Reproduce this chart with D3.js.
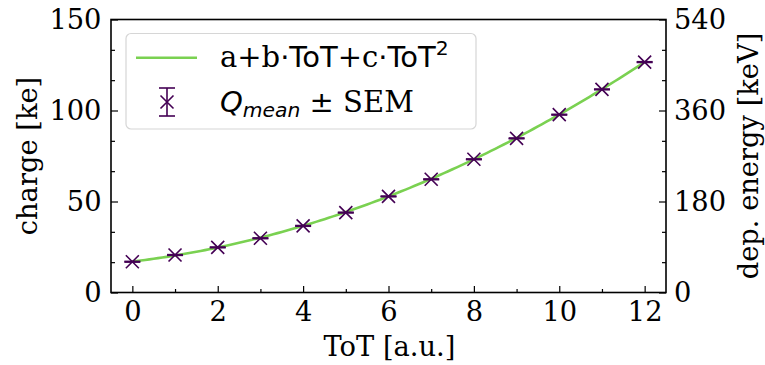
<!DOCTYPE html>
<html>
<head>
<meta charset="utf-8">
<script src="https://cdn.jsdelivr.net/npm/d3@7"></script>
<style>
  html, body { margin: 0; padding: 0; background: #fff; }
  svg { display: block; }
  text { fill: #000; }
</style>
</head>
<body>
<svg id="chart" width="765" height="365"></svg>
<script>
// Mean collected charge per ToT bin with its standard error
const tot = [0, 1, 2, 3, 4, 5, 6, 7, 8, 9, 10, 11, 12];
const chargeMean = [16.9, 20.6, 24.8, 29.8, 36.6, 43.9, 52.8, 62.2, 73.2, 84.7, 97.7, 111.6, 126.6];
const chargeSem = [0.2, 0.2, 0.2, 0.2, 0.2, 0.2, 0.2, 0.2, 0.2, 0.2, 0.2, 0.2, 0.2];
// Quadratic calibration a + b*ToT + c*ToT^2
const fitCoeffs = [17.0, 2.8, 0.528];
// Axis ticks
const xTicks = [0, 2, 4, 6, 8, 10, 12];
const chargeTicks = [0, 50, 100, 150];
const energyTicks = [0, 180, 360, 540];
const keVPerKe = 3.6;

const svg = d3.select("#chart");
const m = { left: 111, right: 666, top: 19.5, bottom: 292.5 };
const serif = "'DejaVu Serif', serif";
const sans = "'DejaVu Sans', sans-serif";
const fs = 27.3;
const lfs = 29;
const purple = "#440154";
const green = "#7ad151";

const x = d3.scaleLinear().domain([-0.5, 12.5]).range([m.left, m.right]);
const y = d3.scaleLinear().domain([0, 150]).range([m.bottom, m.top]);
const yE = d3.scaleLinear().domain([0, 150 * keVPerKe]).range([m.bottom, m.top]);

function styleAxis(g) {
  g.select(".domain").remove();
  g.selectAll(".tick line").attr("stroke", "#000").attr("stroke-width", 1.2);
  g.selectAll(".tick text").attr("font-family", serif).attr("font-size", fs).attr("fill", "#000");
}

// x axis: major + minor ticks, inward
const xMinor = d3.range(1, 13, 2);
svg.append("g").attr("transform", `translate(0,${m.bottom})`)
  .call(d3.axisBottom(x).tickValues(xMinor).tickSize(-3.5).tickFormat(""))
  .call(styleAxis);
svg.append("g").attr("transform", `translate(0,${m.bottom})`)
  .call(d3.axisBottom(x).tickValues(xTicks).tickSize(-6.5).tickPadding(9.5).tickFormat(d3.format("d")))
  .call(styleAxis);

// left axis (charge)
const yMinor = d3.range(0, 151, 50 / 3).filter(v => Math.abs(v % 50) > 1e-6 && Math.abs(v % 50 - 50) > 1e-6);
svg.append("g").attr("transform", `translate(${m.left},0)`)
  .call(d3.axisLeft(y).tickValues(yMinor).tickSize(-4).tickFormat(""))
  .call(styleAxis);
svg.append("g").attr("transform", `translate(${m.left},0)`)
  .call(d3.axisLeft(y).tickValues(chargeTicks).tickSize(-7).tickPadding(9.5).tickFormat(d3.format("d")))
  .call(styleAxis);

// right axis (deposited energy)
const eMinor = d3.range(60, 540, 180).concat(d3.range(120, 540, 180));
svg.append("g").attr("transform", `translate(${m.right},0)`)
  .call(d3.axisRight(yE).tickValues(eMinor).tickSize(-4).tickFormat(""))
  .call(styleAxis);
svg.append("g").attr("transform", `translate(${m.right},0)`)
  .call(d3.axisRight(yE).tickValues(energyTicks).tickSize(-7).tickPadding(8).tickFormat(d3.format("d")))
  .call(styleAxis);

// Fit curve
const fitFn = t => fitCoeffs[0] + fitCoeffs[1] * t + fitCoeffs[2] * t * t;
const curveX = d3.range(0, 12.0001, 0.1);
svg.append("path")
  .datum(curveX)
  .attr("fill", "none")
  .attr("stroke", green)
  .attr("stroke-width", 2.6)
  .attr("d", d3.line().x(d => x(d)).y(d => y(fitFn(d))));

// Data points with error bars and x markers
const pts = tot.map((t, i) => ({ t, q: chargeMean[i], e: chargeSem[i] }));
const gp = svg.append("g").attr("stroke", purple).attr("stroke-width", 1.6).attr("fill", "none");
const cap = 8, mk = 6.5;
pts.forEach(p => {
  const cx = x(p.t), cy = y(p.q), y1 = y(p.q + p.e), y2 = y(p.q - p.e);
  gp.append("line").attr("x1", cx).attr("x2", cx).attr("y1", y1).attr("y2", y2);
  gp.append("line").attr("x1", cx - cap).attr("x2", cx + cap).attr("y1", y1).attr("y2", y1);
  gp.append("line").attr("x1", cx - cap).attr("x2", cx + cap).attr("y1", y2).attr("y2", y2);
  gp.append("path").attr("d", `M${cx - mk},${cy - mk}L${cx + mk},${cy + mk}M${cx - mk},${cy + mk}L${cx + mk},${cy - mk}`);
});

// Frame
svg.append("rect")
  .attr("x", m.left).attr("y", m.top)
  .attr("width", m.right - m.left).attr("height", m.bottom - m.top)
  .attr("fill", "none").attr("stroke", "#000").attr("stroke-width", 1.6);

// Axis labels
svg.append("text").attr("x", (m.left + m.right) / 2 + 1).attr("y", 356)
  .attr("text-anchor", "middle").attr("font-family", serif).attr("font-size", fs)
  .text("ToT [a.u.]");
svg.append("text").attr("transform", `translate(37,${(m.top + m.bottom) / 2}) rotate(-90)`)
  .attr("text-anchor", "middle").attr("font-family", serif).attr("font-size", fs)
  .text("charge [ke]");
svg.append("text").attr("transform", `translate(758,${(m.top + m.bottom) / 2}) rotate(-90)`)
  .attr("text-anchor", "middle").attr("font-family", serif).attr("font-size", fs)
  .text("dep. energy [keV]");

// Legend
const lg = svg.append("g");
lg.append("rect").attr("x", 126).attr("y", 33.5).attr("width", 350).attr("height", 95.5)
  .attr("rx", 5).attr("fill", "#fff").attr("fill-opacity", 0.8)
  .attr("stroke", "#d6d6d6").attr("stroke-width", 1.2);
lg.append("line").attr("x1", 136).attr("x2", 197).attr("y1", 57.7).attr("y2", 57.7)
  .attr("stroke", green).attr("stroke-width", 2.6);
const t1 = lg.append("text").attr("x", 220).attr("y", 66.5).attr("font-size", lfs);
[["a+b", serif], ["·ToT", sans], ["+c", serif], ["·ToT", sans]].forEach(([s, f]) =>
  t1.append("tspan").attr("font-family", f).text(s));
t1.append("tspan").attr("font-family", sans).attr("font-size", lfs * 0.7).attr("dy", -12).text("2");

const lx = 167, ly = 102;
const lgm = lg.append("g").attr("stroke", purple).attr("stroke-width", 1.6);
lgm.append("line").attr("x1", lx).attr("x2", lx).attr("y1", 88).attr("y2", 116);
lgm.append("line").attr("x1", lx - 8).attr("x2", lx + 8).attr("y1", 88).attr("y2", 88);
lgm.append("line").attr("x1", lx - 8).attr("x2", lx + 8).attr("y1", 116).attr("y2", 116);
lgm.append("path").attr("d", `M${lx - mk},${ly - mk}L${lx + mk},${ly + mk}M${lx - mk},${ly + mk}L${lx + mk},${ly - mk}`);

const t2 = lg.append("text").attr("x", 220).attr("y", 111.5).attr("font-size", lfs);
t2.append("tspan").attr("font-family", sans).attr("font-style", "italic").text("Q");
t2.append("tspan").attr("font-family", sans).attr("font-style", "italic")
  .attr("font-size", lfs * 0.7).attr("dy", 5).text("mean");
t2.append("tspan").attr("font-family", sans).attr("dy", -5).text(" ±");
t2.append("tspan").attr("font-family", serif).text(" SEM");
</script>
</body>
</html>
